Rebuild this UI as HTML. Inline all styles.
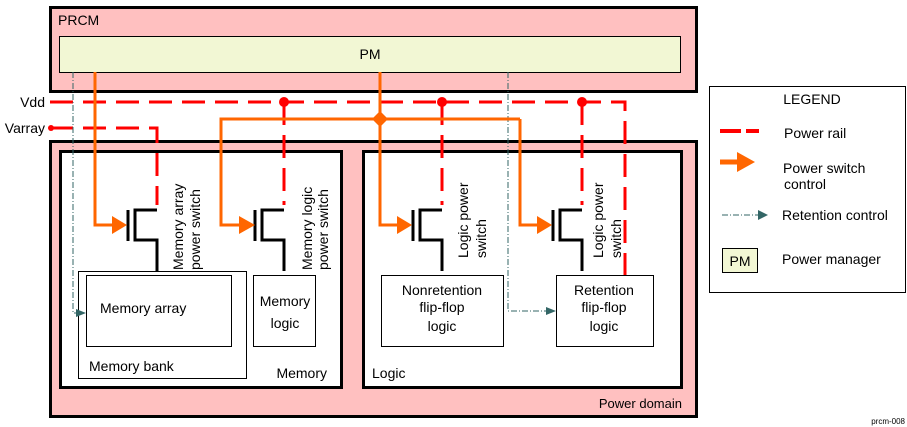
<!DOCTYPE html>
<html><head><style>body{margin:0;background:#fff}svg{display:block}text{font-family:"Liberation Sans",sans-serif;font-size:14px;fill:#000}</style></head><body>
<svg width="907" height="427" viewBox="0 0 907 427">
<defs>
<marker id="ta" markerWidth="10" markerHeight="8" refX="9" refY="4" orient="auto" markerUnits="userSpaceOnUse"><path d="M0,0 L10,4 L0,8z" fill="#336666"/></marker>
</defs>
<!-- PRCM -->
<rect x="50.5" y="7.5" width="646" height="84" fill="#ffc0c0" stroke="#000" stroke-width="3"/>
<text x="58" y="25">PRCM</text>
<rect x="59.5" y="36.5" width="621" height="36" fill="#f2f7d4" stroke="#000" stroke-width="1"/>
<text x="370" y="59" text-anchor="middle">PM</text>
<!-- Power domain -->
<rect x="50.5" y="141.5" width="646" height="275" fill="#ffc0c0" stroke="#000" stroke-width="3"/>
<text x="682" y="408" text-anchor="end" style="font-size:13px">Power domain</text>
<rect x="60.5" y="151.5" width="281" height="236" fill="#fff" stroke="#000" stroke-width="3"/>
<text x="327" y="378" text-anchor="end">Memory</text>
<rect x="363.5" y="151.5" width="318" height="236" fill="#fff" stroke="#000" stroke-width="3"/>
<text x="372" y="378">Logic</text>
<rect x="78.5" y="271.5" width="168" height="107" fill="#fff" stroke="#000"/>
<text x="89" y="371">Memory bank</text>
<rect x="86.5" y="275.5" width="145" height="71" fill="#fff" stroke="#000"/>
<text x="100" y="313">Memory  array</text>
<rect x="253.5" y="275.5" width="62" height="71" fill="#fff" stroke="#000"/>
<text x="285" y="306" text-anchor="middle">Memory</text><text x="285" y="328" text-anchor="middle">logic</text>
<rect x="381.5" y="275.5" width="122" height="71" fill="#fff" stroke="#000"/>
<text x="442" y="295" text-anchor="middle">Nonretention</text><text x="442" y="312" text-anchor="middle">flip-flop</text><text x="442" y="331" text-anchor="middle">logic</text>
<rect x="556.5" y="275.5" width="97" height="71" fill="#fff" stroke="#000"/>
<text x="604" y="295" text-anchor="middle">Retention</text><text x="604" y="312" text-anchor="middle">flip-flop</text><text x="604" y="331" text-anchor="middle">logic</text>
<!-- rails -->
<text x="45" y="107" text-anchor="end">Vdd</text>
<text x="45" y="133" text-anchor="end">Varray</text>
<g stroke="#ff0000" stroke-width="3" fill="none" stroke-dasharray="23,10">
<path d="M50,102 H625 V275"/>
<path d="M50,128 H157 V205"/>
<path d="M284,102 V205"/><path d="M442,102 V205"/><path d="M582,102 V205"/>
</g>
<g fill="#ff0000"><circle cx="284" cy="102" r="5"/><circle cx="442" cy="102" r="5"/><circle cx="582" cy="102" r="5"/><circle cx="51" cy="128" r="3"/></g>
<!-- transistors -->
<g stroke="#000" stroke-width="3" fill="none">
<g id="t"><path d="M128,210 V241"/><path d="M157,210 H135 V240 H157 V271"/></g>
<use href="#t" x="127"/><use href="#t" x="285"/><use href="#t" x="425"/>
</g>
<!-- retention control -->
<g stroke="#336666" stroke-width="1" fill="none" stroke-dasharray="6,2,1,2">
<path d="M73,72 V313 H85" marker-end="url(#ta)"/>
<path d="M508,72 V311 H555" marker-end="url(#ta)"/>
</g>
<!-- orange -->
<g stroke="#ff6600" stroke-width="3" fill="none">
<path d="M95,72 V225 H115"/>
<path d="M520,119 H221 V225 H243"/>
<path d="M380,72 V225 H400"/>
<path d="M520,119 V225 H540"/>
</g>
<g fill="#ff6600">
<path d="M112,216 L127,225 L112,234z"/>
<path d="M239,216 L255,225 L239,234z"/>
<path d="M397,216 L412,225 L397,234z"/>
<path d="M537,216 L552,225 L537,234z"/>
<path d="M380,111 L388,119 L380,127 L372,119z"/>
</g>
<!-- vertical labels -->
<g style="font-size:13px">
<text transform="translate(183,270) rotate(-90)">Memory array</text>
<text transform="translate(200,270) rotate(-90)">power switch</text>
<text transform="translate(312,270) rotate(-90)">Memory logic</text>
<text transform="translate(328,270) rotate(-90)">power switch</text>
<text transform="translate(468,258) rotate(-90)">Logic power</text>
<text transform="translate(486,258) rotate(-90)">switch</text>
<text transform="translate(603,258) rotate(-90)">Logic power</text>
<text transform="translate(621,258) rotate(-90)">switch</text>
</g>
<!-- legend -->
<rect x="709.5" y="86.5" width="196" height="206" fill="#fff" stroke="#000"/>
<text x="812" y="104" text-anchor="middle">LEGEND</text>
<path d="M720,131 H741 M746,131 H759" stroke="#ff0000" stroke-width="4"/>
<text x="784" y="138">Power rail</text>
<path d="M720,162 H738" stroke="#ff6600" stroke-width="5"/><path d="M737,152 L755,162 L737,172z" fill="#ff6600"/>
<text x="783" y="173">Power switch</text><text x="784" y="189">control</text>
<path d="M722,215 H760" stroke="#336666" stroke-dasharray="6,2,1,2"/><path d="M758,210 L768,215 L758,220z" fill="#336666"/>
<text x="782" y="220">Retention control</text>
<rect x="722.5" y="248.5" width="35" height="24" fill="#f2f7d4" stroke="#000"/>
<text x="740" y="266" text-anchor="middle">PM</text>
<text x="782" y="264">Power manager</text>
<text x="905" y="424" text-anchor="end" style="font-size:8px">prcm-008</text>
</svg>
</body></html>
